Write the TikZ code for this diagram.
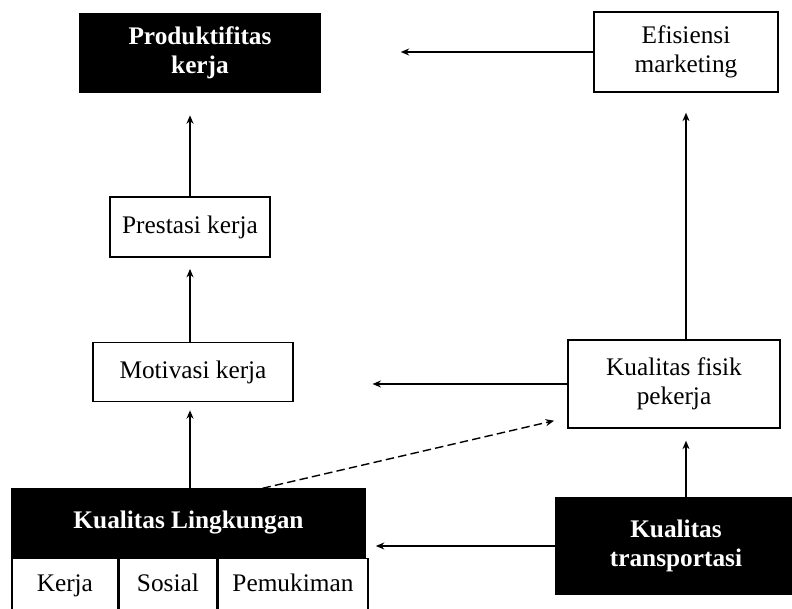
\documentclass[tikz,border=0pt]{standalone}
\usepackage{fontspec}
\setmainfont{Liberation Serif}
\usetikzlibrary{arrows.meta,positioning,calc}

\begin{document}
\begin{tikzpicture}[
    x=0.025cm, y=-0.025cm,
    box/.style={rectangle, draw=black, line width=1pt, align=center,
                 inner sep=2pt, font=\fontsize{18}{21}\selectfont},
    darkbox/.style={box, fill=black, text=white, font=\fontsize{18}{21}\selectfont\bfseries},
    cell/.style={box, minimum height=1.3cm, text depth=0.25em},
    arrow/.style={-{Stealth[length=6pt,width=5pt]}, line width=1pt},
    dasharrow/.style={arrow, dash pattern=on 6pt off 3pt}
]
\clip (0,0) rectangle (792,609);
\fill[white] (0,0) rectangle (792,609);

% upper row
\node[darkbox, minimum width=6cm, minimum height=1.98cm] (prod) at (200,53) {Produktifitas\\kerja};
\node[box, minimum width=4.6cm, minimum height=2cm] (efis) at (686,52) {Efisiensi\\marketing};

% left column
\node[box, minimum width=4cm, minimum height=1.5cm] (pres) at (190,227) {Prestasi kerja};
\node[box, minimum width=5cm, minimum height=1.48cm] (moti) at (193,372) {Motivasi kerja};
\node[darkbox, minimum width=8.83cm, minimum height=1.7cm] (ling) at (188.5,523) {Kualitas Lingkungan};
\node[cell, minimum width=2.65cm, anchor=north west] (kerja) at (ling.south west) {Kerja};
\node[cell, minimum width=2.43cm, anchor=north west] (sosial) at (kerja.north east) {Sosial};
\node[cell, minimum width=3.75cm, anchor=north west] (pemu) at (sosial.north east) {Pemukiman};

% right column
\node[box, minimum width=5.3cm, minimum height=2.2cm] (fisik) at (674,384) {Kualitas fisik\\pekerja};
\node[darkbox, minimum width=6cm, minimum height=2.42cm] (trans) at (676,546) {Kualitas\\transportasi};

% connectors
\draw[arrow, shorten >=2cm] (efis.west) -- (efis.west -| prod.east);
\draw[arrow, shorten >=0.55cm] (pres.north) -- (pres.north |- prod.south);
\draw[arrow, shorten >=0.28cm] (moti.north -| pres) -- (pres.south);
\draw[arrow, shorten >=0.2cm] (ling.north -| pres) -- (moti.south -| pres);
\draw[arrow, shorten >=1.97cm] (fisik.west) -- (fisik.west -| moti.east);
\draw[arrow, shorten >=0.5cm] (fisik.north -| efis) -- (efis.south);
\draw[arrow, shorten >=0.3cm] (trans.north -| efis) -- (fisik.south -| efis);
\draw[arrow, shorten >=0.25cm] (trans.west) -- (trans.west -| ling.east);
\draw[dasharrow] ([xshift=1.85cm]ling.north) -- ([xshift=-0.33cm, yshift=0.2cm]fisik.south west);
\end{tikzpicture}
\end{document}
